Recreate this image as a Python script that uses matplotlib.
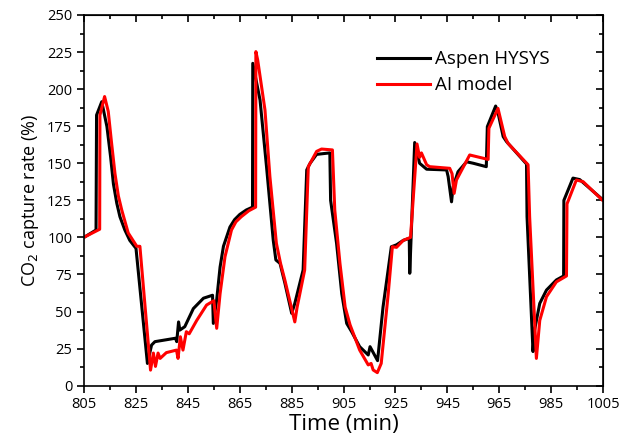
import numpy as np
import matplotlib.pyplot as plt
from matplotlib.ticker import MultipleLocator

plt.rcParams['font.family'] = ['Open Sans', 'DejaVu Sans']

# Aspen HYSYS (black)
t_hysys = [805.4, 809.6, 809.8, 811.8, 813.8, 815.2, 816.3, 817.6, 818.8, 820.7,
           822.6, 825.0, 829.4, 831.0, 832.3, 840.2, 840.7, 841.4, 841.9, 843.8,
           847.1, 851.0, 854.5, 854.8, 856.1, 857.4, 858.7, 861.2, 863.0, 865.0,
           867.5, 869.9, 870.0, 872.8, 875.3, 877.9, 878.9, 880.5, 882.4, 885.0,
           886.2, 889.4, 890.8, 892.1, 894.6, 899.7, 900.0, 902.3, 904.3, 906.2,
           908.1, 911.2, 914.5, 915.2, 918.1, 920.2, 923.4, 925.4, 928.0, 930.3,
           930.5, 932.4, 934.3, 937.0, 944.7, 945.3, 946.6, 947.2, 949.1, 952.4,
           955.0, 960.0, 960.4, 963.6, 964.4, 966.5, 967.8, 975.5, 975.7, 978.0,
           978.6, 980.6, 983.2, 987.0, 989.8, 989.9, 993.4, 996.0, 1004.7]
y_hysys = [100.5, 105, 182.5, 191.5, 174.7, 154.5, 136, 123, 114, 105,
           98, 92.6, 15, 27.4, 29.7, 32, 29.7, 43, 37.5, 39.8,
           52, 59, 61, 42, 58, 80, 94, 107, 112, 115.5,
           118.5, 120.4, 217.4, 192.7, 147.7, 98, 84.8, 82.5, 69, 48.8,
           55.5, 78, 145.5, 150, 156, 157, 125, 96, 62, 42,
           36.4, 26.3, 20.7, 26.3, 16.9, 53, 93.7, 95, 98, 99.4,
           75.8, 164, 150, 146, 145.5, 141, 124, 134, 144.3, 151,
           150, 147.7, 174.7, 188.6, 185, 168, 164.6, 149.5, 114, 23,
           37.5, 55.5, 64.5, 71.3, 74, 125, 140, 139, 125.7]

# AI model (red)
t_ai = [805.4, 811.0, 811.1, 812.9, 814.3, 815.5, 816.9, 818.2, 819.5, 822.0,
        825.3, 826.5, 830.6, 831.7, 832.5, 833.5, 834.3, 836.7, 840.6, 841.2,
        842.1, 843.1, 844.4, 845.5, 848.4, 852.2, 855.0, 856.1, 857.4, 859.3,
        861.8, 863.5, 865.6, 868.5, 871.1, 871.2, 871.9, 874.7, 876.6, 879.1,
        880.7, 882.4, 886.2, 887.1, 890.0, 891.4, 894.6, 896.5, 900.7, 901.6,
        903.6, 905.6, 907.5, 911.2, 914.5, 915.6, 916.4, 918.0, 919.5, 922.2,
        923.8, 925.4, 928.0, 930.8, 933.3, 934.3, 935.0, 937.0, 938.2, 945.9,
        946.8, 947.6, 948.5, 953.6, 960.7, 961.0, 964.5, 967.1, 968.4, 976.1,
        976.7, 979.3, 980.6, 983.2, 987.0, 990.9, 991.1, 994.7, 997.3, 1004.7]
y_ai = [100.5, 105.5, 182.5, 195, 185, 165, 143, 128, 118.5, 103,
        94, 94, 10.5, 22, 13, 22, 18.4, 22.3, 24, 18.4,
        33, 24, 36.4, 35, 44, 54.4, 57.3, 38.7, 62, 87,
        105, 110.5, 114, 118, 120.4, 225.3, 219.6, 186, 141, 96,
        82.5, 71, 43, 53, 78, 147.7, 158, 159.6, 159, 118.5,
        82.5, 53, 41, 24, 14, 15, 10.6, 8.8, 15, 62,
        93.7, 93.3, 98, 100, 163, 154, 157, 149, 147.7, 146.6,
        143, 129.7, 138.7, 155.6, 152.6, 173.6, 187, 168, 163.4, 149,
        114, 18.4, 44, 60, 70, 74, 122.6, 138.7, 137.6, 125.2]


def set_ticks(axis, major, minor, offset=0):
    axis.set_major_locator(MultipleLocator(major, offset=offset))
    axis.set_minor_locator(MultipleLocator(minor, offset=offset))


def plot_capture():
    fig = plt.figure(figsize=(6.23, 4.36), dpi=100)
    ax = fig.add_axes([0.135, 0.1154, 0.833, 0.8502])
    ax.plot(t_hysys, y_hysys, color='black', lw=2.2, label='Aspen HYSYS')
    ax.plot(t_ai, y_ai, color='#ff0000', lw=2.2, label='AI model')

    ax.set_xlim(805, 1005)
    ax.set_ylim(0, 250)
    set_ticks(ax.xaxis, 20, 10, offset=5)
    set_ticks(ax.yaxis, 25, 12.5)
    ax.tick_params(which='both', direction='out', top=False, right=False,
                   labelsize=10.5, width=1.2)
    ax.tick_params(which='major', length=5)
    ax.tick_params(which='minor', length=3)
    for sp in ax.spines.values():
        sp.set_linewidth(1.2)

    # inward ticks on top and right
    axt = ax.secondary_xaxis('top')
    set_ticks(axt.xaxis, 20, 10, offset=5)
    axt.tick_params(which='both', direction='in', labeltop=False, width=1.2)
    axt.tick_params(which='major', length=5)
    axt.tick_params(which='minor', length=3)
    axr = ax.secondary_yaxis('right')
    set_ticks(axr.yaxis, 25, 12.5)
    axr.tick_params(which='both', direction='in', labelright=False, width=1.2)
    axr.tick_params(which='major', length=5)
    axr.tick_params(which='minor', length=3)

    ax.set_xlabel('Time (min)', fontsize=16, labelpad=1)
    ax.set_ylabel('CO$_2$ capture rate (%)', fontsize=13, labelpad=4)
    ax.legend(loc='upper right', bbox_to_anchor=(0.912, 0.925), frameon=False,
              fontsize=13.5, handlelength=2.8, handletextpad=0.3,
              labelspacing=0.42, borderaxespad=0)
    fig.savefig('out.png', dpi=100)


if __name__ == '__main__':
    plot_capture()
